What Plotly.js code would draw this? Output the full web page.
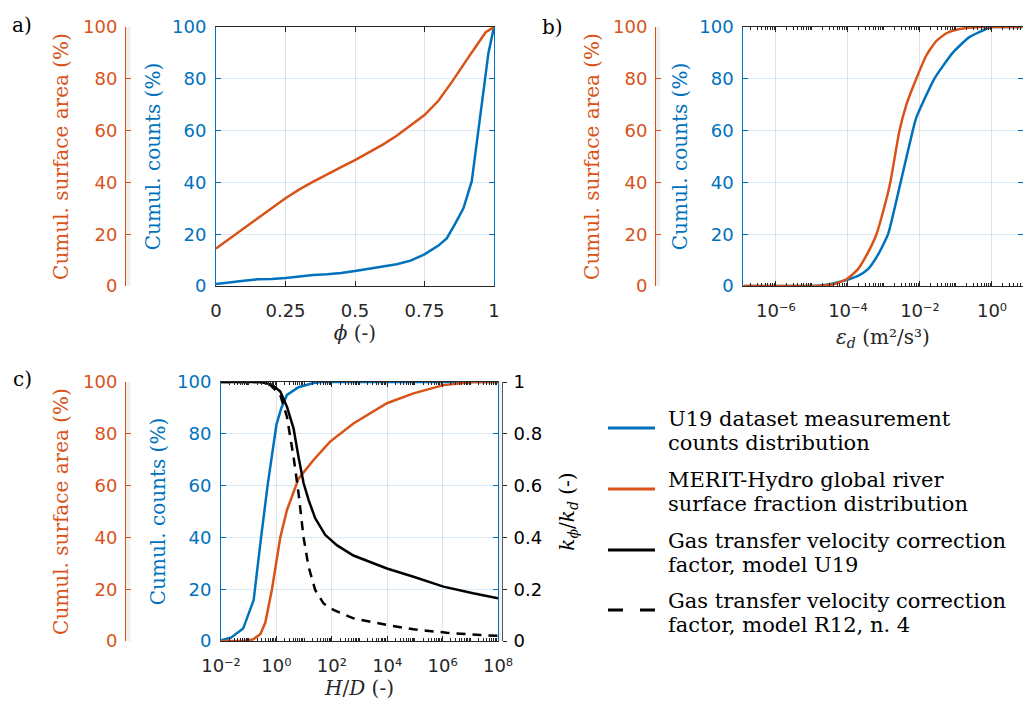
<!DOCTYPE html>
<html><head><meta charset="utf-8">
<script src="https://cdn.plot.ly/plotly-3.0.1.min.js"></script>
<style>html,body{margin:0;padding:0;background:#fff}#chart{width:1023px;height:705px}</style>
</head><body><div id="chart"></div>
<script>
// ---------------- data ----------------
// panel a: phi (-) vs cumulative distributions (%)
const aCountsPhi = [0,0.05,0.1,0.15,0.2,0.25,0.3,0.35,0.4,0.45,0.5,0.55,0.6,0.65,0.7,0.75,0.8,0.83,0.86,0.89,0.92,0.94,0.96,0.98,1];
const aCounts    = [0.8,1.5,2.0,2.6,2.7,3.1,3.7,4.2,4.5,5.0,5.8,6.6,7.6,8.4,9.8,12.2,15.6,18.4,24,30,40.5,57,74,90,100];
const aSurfPhi   = [0,0.05,0.1,0.15,0.2,0.25,0.3,0.35,0.4,0.45,0.5,0.55,0.6,0.65,0.7,0.75,0.8,0.85,0.9,0.95,0.97,1];
const aSurf      = [14.5,18.3,22.3,26,30,33.9,37.3,40.3,43.2,45.9,48.6,51.6,54.6,58,62,66,71.5,79,87,95,98,100];

// panel b: epsilon_d (m2/s3)
const bCountsEps = [1.25e-7,1e-6,1e-5,2e-5,3.9e-5,9.1e-5,1.9e-4,3.6e-4,6.8e-4,1.3e-3,2.9e-3,6.3e-3,7.9e-3,0.025,0.081,0.23,0.85,1,7];
const bCounts    = [0,0,0,0.3,1.0,2.3,3.9,6.5,12,20,40,60,65,80,90,96,99.8,100,100];
const bSurfEps   = [1.25e-7,1e-6,1e-5,2e-5,3.9e-5,9.1e-5,1.9e-4,3.2e-4,6.2e-4,1.0e-3,1.5e-3,2.7e-3,4.2e-3,7.9e-3,0.015,0.028,0.053,0.126,0.45,1,7];
const bSurf      = [0,0,0,0.1,0.65,2.6,6.5,11.6,20,30,40,60,70,80,89,94.5,97.5,99.2,100,100,100];

// panel c: H/D (-)
const cCountsHD  = [0.01,0.0229,0.0631,0.151,0.28,0.48,1,1.51,2.4,6.31,20,38,1e8];
const cCounts    = [0.3,1.3,4.8,15.8,40,60,83.5,90,95,98,99.5,100,100];
const cSurfHD    = [0.01,0.063,0.141,0.263,0.398,0.692,1.38,2.4,6.31,21.9,87,603,9772,8.9e4,1.07e6,1.26e7,1e8];
const cSurf      = [0,0,0.6,2.6,7.1,20,40,50.5,62.7,69.9,77,84,91.8,95.6,98.8,100,100];
const cKU19HD    = [0.01,0.263,0.692,1.38,2.4,4.17,6.31,9.55,14.5,25.1,57.5,151,603,9772,8.9e4,1.07e6,1.26e7,1e8];
const cKU19      = [1.0,1.0,0.99,0.963,0.905,0.82,0.71,0.61,0.545,0.474,0.41,0.37,0.33,0.28,0.248,0.21,0.184,0.165];
const cKR12HD    = [0.01,0.263,0.603,1.38,2.4,4.17,6.31,9.55,14.5,25.1,50.1,115,603,9772,8.9e4,1.41e6,2.24e7,1e8];
const cKR12      = [1.0,1.0,0.988,0.95,0.866,0.71,0.57,0.40,0.287,0.197,0.145,0.12,0.0875,0.062,0.045,0.032,0.023,0.02];

// tick labels
const phiTicks = [0,0.25,0.5,0.75,1];
const phiTickText = ['0','0.25','0.5','0.75','1'];
const pctTicks = [0,20,40,60,80,100];
const epsTicks = [1e-6,1e-4,1e-2,1];
const epsTickText = ['10⁻⁶','10⁻⁴','10⁻²','10⁰'];
const hdTicks = [1e-2,1,1e2,1e4,1e6,1e8];
const hdTickText = ['10⁻²','10⁰','10²','10⁴','10⁶','10⁸'];
const kTicks = [0,0.2,0.4,0.6,0.8,1];
const kTickText = ['0','0.2','0.4','0.6','0.8','1'];

const legendLabels = [
  ['U19 dataset measurement','counts distribution'],
  ['MERIT-Hydro global river','surface fraction distribution'],
  ['Gas transfer velocity correction','factor, model U19'],
  ['Gas transfer velocity correction','factor, model R12, n. 4']
];

// ---------------- styling ----------------
const W = 1023, H = 705;
const BLUE = '#0072BD', ORANGE = '#D95319', DARK = '#262626';
const px = v => v / W;
const py = v => 1 - v / H;
const tickFont = c => ({family: 'DejaVu Sans', size: 18, color: c});
const titleFont = c => ({family: 'DejaVu Serif', size: 20, color: c});
const LW = 2.5;

function minorLog(k0, k1) {
  const out = [];
  for (let k = k0; k <= k1; k++) for (let m = 1; m <= 9; m++) {
    if (m === 1 && k % 2 === 0) continue;
    out.push(m * Math.pow(10, k));
  }
  return out;
}

const domA = [px(216), px(494)], domB = [px(743.3), px(1022.6)], domC = [px(221), px(498)];
const domAB = [py(286), py(27)], domCy = [py(641), py(382)];

const xBase = {
  ticks: 'inside', ticklen: 5, tickcolor: DARK, showline: true, linecolor: DARK, linewidth: 1,
  mirror: 'ticks', zeroline: false, gridcolor: 'rgba(38,38,38,0.13)', tickfont: tickFont(DARK),
  ticklabelstandoff: 8
};
const blueY = {
  range: [0, 100], tickvals: pctTicks, ticks: 'inside', ticklen: 5, tickcolor: BLUE, showline: true,
  linecolor: BLUE, linewidth: 1, mirror: 'ticks', zeroline: false, gridcolor: 'rgba(0,114,189,0.14)',
  tickfont: tickFont(BLUE), ticklabelstandoff: 5
};
const orangeY = {
  range: [0, 100], tickvals: pctTicks, ticks: 'inside', ticklen: 5, tickcolor: ORANGE, showline: true,
  linecolor: ORANGE, linewidth: 1, zeroline: false, showgrid: false, tickfont: tickFont(ORANGE),
  anchor: 'free', side: 'left', ticklabelstandoff: 4
};

const traces = [
  {x: aCountsPhi, y: aCounts, xaxis: 'x', yaxis: 'y', mode: 'lines', line: {color: BLUE, width: LW}},
  {x: aSurfPhi, y: aSurf, xaxis: 'x', yaxis: 'y2', mode: 'lines', line: {color: ORANGE, width: LW}},
  {x: bCountsEps, y: bCounts, xaxis: 'x2', yaxis: 'y3', mode: 'lines', line: {color: BLUE, width: LW, shape: 'spline', smoothing: 0.5}},
  {x: bSurfEps, y: bSurf, xaxis: 'x2', yaxis: 'y4', mode: 'lines', line: {color: ORANGE, width: LW, shape: 'spline', smoothing: 0.5}},
  {x: cCountsHD, y: cCounts, xaxis: 'x3', yaxis: 'y5', mode: 'lines', line: {color: BLUE, width: LW}},
  {x: cSurfHD, y: cSurf, xaxis: 'x3', yaxis: 'y6', mode: 'lines', line: {color: ORANGE, width: LW}},
  {x: cKU19HD, y: cKU19, xaxis: 'x3', yaxis: 'y7', mode: 'lines', line: {color: '#000', width: LW}},
  {x: cKR12HD, y: cKR12, xaxis: 'x3', yaxis: 'y7', mode: 'lines', line: {color: '#000', width: LW, dash: '9px,7px'}}
].map(t => Object.assign(t, {showlegend: false, hoverinfo: 'skip', cliponaxis: false}));

const layout = {
  width: W, height: H, margin: {l: 0, r: 0, t: 0, b: 0},
  paper_bgcolor: '#fff', plot_bgcolor: 'rgba(0,0,0,0)', showlegend: false,
  xaxis: Object.assign({}, xBase, {domain: domA, anchor: 'y', range: [0, 1], tickvals: phiTicks, ticktext: phiTickText,
    title: {text: '<i>ϕ</i> (-)', font: titleFont(DARK), standoff: 6}}),
  xaxis2: Object.assign({}, xBase, {domain: domB, anchor: 'y3', type: 'log', range: [-6.906, 0.85], tickvals: epsTicks, ticktext: epsTickText,
    minor: {tickvals: minorLog(-7, 0), ticks: 'inside', ticklen: 3, tickcolor: DARK, showgrid: false},
    title: {text: '<i>ε</i><sub><i>d</i></sub> (m²/s³)', font: titleFont(DARK), standoff: 10}}),
  xaxis3: Object.assign({}, xBase, {domain: domC, anchor: 'y5', type: 'log', range: [-2, 8], tickvals: hdTicks, ticktext: hdTickText,
    minor: {tickvals: minorLog(-2, 7), ticks: 'inside', ticklen: 3, tickcolor: DARK, showgrid: false},
    title: {text: '<i>H</i>/<i>D</i> (-)', font: titleFont(DARK), standoff: 6}}),
  yaxis: Object.assign({}, blueY, {domain: domAB, anchor: 'x', title: {text: 'Cumul. counts (%)', font: titleFont(BLUE), standoff: 6}}),
  yaxis2: Object.assign({}, orangeY, {overlaying: 'y', position: px(125), title: {text: 'Cumul. surface area (%)', font: titleFont(ORANGE), standoff: 8}}),
  yaxis3: Object.assign({}, blueY, {domain: domAB, anchor: 'x2', title: {text: 'Cumul. counts (%)', font: titleFont(BLUE), standoff: 6}}),
  yaxis4: Object.assign({}, orangeY, {overlaying: 'y3', position: px(655), title: {text: 'Cumul. surface area (%)', font: titleFont(ORANGE), standoff: 7}}),
  yaxis5: Object.assign({}, blueY, {domain: domCy, anchor: 'x3', title: {text: 'Cumul. counts (%)', font: titleFont(BLUE), standoff: 6}}),
  yaxis6: Object.assign({}, orangeY, {overlaying: 'y5', position: px(125), title: {text: 'Cumul. surface area (%)', font: titleFont(ORANGE), standoff: 8}}),
  yaxis7: {overlaying: 'y5', anchor: 'free', side: 'right', position: px(502), range: [0, 1], tickvals: kTicks, ticktext: kTickText,
    ticks: 'outside', ticklen: 4, tickcolor: DARK, showline: true, linecolor: '#555', linewidth: 1, zeroline: false, showgrid: false,
    tickfont: tickFont('#000'), ticklabelstandoff: 3,
    title: {text: '<i>k</i><sub><i>ϕ</i></sub>/<i>k</i><sub><i>d</i></sub> (-)', font: titleFont('#000'), standoff: 18}},
  shapes: [],
  annotations: []
};

// thin grey strips of the offset axes' backgrounds
[[126, 130.5, domAB], [656, 660, domAB], [126, 130.5, domCy], [498.5, 501.5, domCy]].forEach(s => {
  layout.shapes.push({type: 'rect', xref: 'paper', yref: 'paper', x0: px(s[0]), x1: px(s[1]), y0: s[2][0], y1: s[2][1],
    fillcolor: '#efefef', line: {width: 0}, layer: 'below'});
});

// panel labels
[['a)', 10, 25], ['b)', 540, 27], ['c)', 11, 379]].forEach(l => {
  layout.annotations.push({text: l[0], xref: 'paper', yref: 'paper', x: px(l[1]), y: py(l[2]), xanchor: 'left', yanchor: 'middle',
    showarrow: false, font: {family: 'DejaVu Serif', size: 20, color: '#000'}});
});

// legend (drawn manually for MATLAB-like spacing)
const legColors = [BLUE, ORANGE, '#000', '#000'];
const legDash = ['solid', 'solid', 'solid', '15px,17px'];
const legBase = [425, 486, 547, 607];
legendLabels.forEach((lines, i) => {
  const b = legBase[i];
  layout.shapes.push({type: 'line', xref: 'paper', yref: 'paper', x0: px(608), x1: px(655), y0: py(b + 3), y1: py(b + 3),
    line: {color: legColors[i], width: 3, dash: legDash[i]}});
  lines.forEach((t, j) => {
    layout.annotations.push({text: t, xref: 'paper', yref: 'paper', x: px(666), y: py(b + 24 * j - 6.5), xanchor: 'left', yanchor: 'middle',
      showarrow: false, font: {family: 'DejaVu Serif', size: 21, color: '#000'}});
  });
});

Plotly.newPlot('chart', traces, layout, {staticPlot: true, displayModeBar: false});
</script>
</body></html>
